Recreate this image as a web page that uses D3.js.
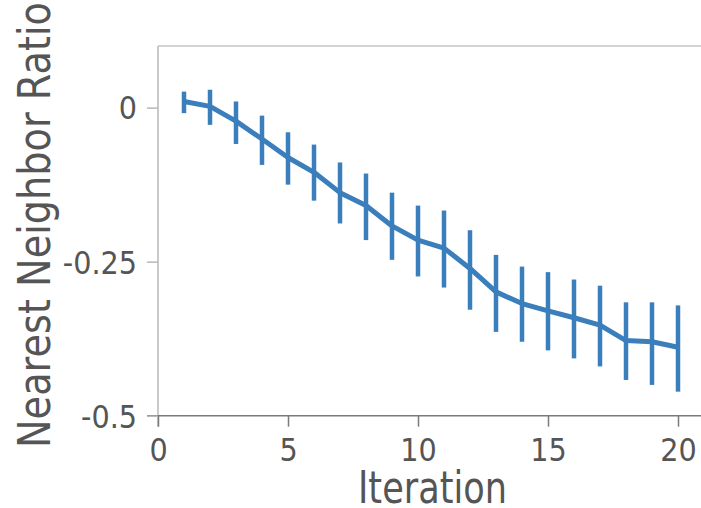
<!DOCTYPE html>
<html lang="en">
<head>
    <meta charset="UTF-8">
    <title>Nearest Neighbor Ratio</title>
    <script src="https://d3js.org/d3.v7.min.js"></script>
    <style>
        body { margin: 0; background: #fff; }
        text {
            font-family: "DejaVu Sans", sans-serif;
            fill: #555;
        }
    </style>
</head>
<body>
    <svg width="701" height="508"></svg>
    <script>
        // values
        const iteration = d3.range(1, 21);
        const mean  = [0.010, 0.002, -0.022, -0.051, -0.081, -0.105, -0.138, -0.159, -0.192, -0.215,
                       -0.228, -0.261, -0.299, -0.318, -0.330, -0.341, -0.353, -0.378, -0.380, -0.389];
        const upper = [0.026, 0.029, 0.010, -0.013, -0.040, -0.060, -0.089, -0.107, -0.138, -0.159,
                       -0.167, -0.199, -0.239, -0.258, -0.267, -0.279, -0.289, -0.316, -0.316, -0.321];
        const lower = [-0.009, -0.028, -0.059, -0.093, -0.125, -0.151, -0.188, -0.215, -0.247, -0.274,
                       -0.292, -0.328, -0.364, -0.380, -0.394, -0.407, -0.420, -0.442, -0.450, -0.461];
        const xTicks = [0, 5, 10, 15, 20];
        const yTicks = [0, -0.25, -0.5];

        const data = iteration.map((it, i) => ({ it, m: mean[i], hi: upper[i], lo: lower[i] }));

        const svg = d3.select("svg");
        const x = d3.scaleLinear().domain([0, 20]).range([158, 678]);
        const y = d3.scaleLinear().domain([-0.5, 0.1]).range([415.7, 46]);
        const blue = "#3a7ebc";
        const tick = 11;

        // frame
        svg.append("line").attr("x1", x(0)).attr("x2", 701).attr("y1", y(0.1)).attr("y2", y(0.1))
            .attr("stroke", "#c4c4c4").attr("stroke-width", 1.5);
        svg.append("line").attr("x1", x(0)).attr("x2", x(0)).attr("y1", y(0.1)).attr("y2", y(-0.5) + tick)
            .attr("stroke", "#b8b8b8").attr("stroke-width", 1.5);
        svg.append("line").attr("x1", x(0) - tick).attr("x2", 701).attr("y1", y(-0.5)).attr("y2", y(-0.5))
            .attr("stroke", "#7a7a7a").attr("stroke-width", 1.5);

        const xAxis = svg.append("g")
            .attr("transform", `translate(0,${y(-0.5)})`)
            .call(d3.axisBottom(x).tickValues(xTicks).tickSize(tick).tickPadding(10).tickFormat(d3.format("d")));
        xAxis.select(".domain").remove();
        xAxis.selectAll(".tick line").attr("stroke", "#7a7a7a").attr("stroke-width", 1.5);
        xAxis.selectAll(".tick text").attr("dy", "0.78em");

        const yAxis = svg.append("g")
            .attr("transform", `translate(${x(0)},0)`)
            .call(d3.axisLeft(y).tickValues(yTicks).tickSize(tick).tickPadding(10)
                .tickFormat(d => d === 0 ? "0" : String(d)));
        yAxis.select(".domain").remove();
        yAxis.selectAll(".tick line").attr("stroke", "#b8b8b8").attr("stroke-width", 1.5);
        yAxis.selectAll(".tick text").attr("dy", "0.36em");

        // tick labels: a little taller and narrower than plain DejaVu
        svg.selectAll(".tick text")
            .attr("font-family", "DejaVu Sans").attr("font-size", 31.5).attr("fill", "#555")
            .each(function () {
                const w = this.getComputedTextLength();
                d3.select(this).attr("textLength", w * 0.91).attr("lengthAdjust", "spacingAndGlyphs");
            });

        // error bars
        svg.append("g").selectAll("line")
            .data(data)
            .enter().append("line")
            .attr("x1", d => x(d.it)).attr("x2", d => x(d.it))
            .attr("y1", d => y(d.hi)).attr("y2", d => y(d.lo))
            .attr("stroke", blue).attr("stroke-width", 4.5);

        // mean line
        svg.append("path")
            .datum(data)
            .attr("fill", "none")
            .attr("stroke", blue)
            .attr("stroke-width", 5)
            .attr("stroke-linejoin", "round")
            .attr("d", d3.line().x(d => x(d.it)).y(d => y(d.m)));

        // axis titles
        svg.append("text")
            .attr("x", 358).attr("y", 503)
            .attr("font-size", 45)
            .attr("textLength", 149).attr("lengthAdjust", "spacingAndGlyphs")
            .text("Iteration");

        svg.append("text")
            .attr("transform", "translate(50,448) rotate(-90)")
            .attr("font-size", 44)
            .attr("textLength", 446).attr("lengthAdjust", "spacingAndGlyphs")
            .text("Nearest Neighbor Ratio");
    </script>
</body>
</html>
